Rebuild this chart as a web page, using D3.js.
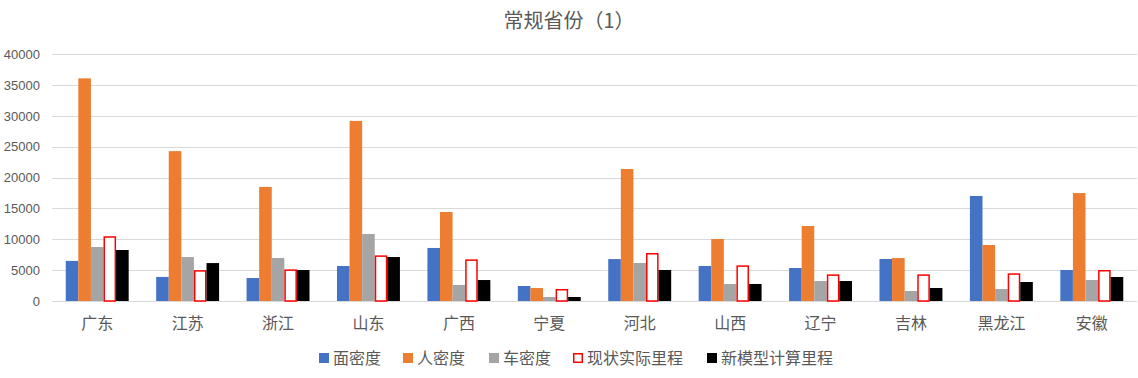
<!DOCTYPE html>
<html><head><meta charset="utf-8">
<script src="https://cdn.jsdelivr.net/npm/d3@7"></script>
<style>body{margin:0;background:#fff}svg{display:block;font-family:"Noto Sans CJK SC","DejaVu Sans",sans-serif}</style>
</head><body><svg id="c" width="1138" height="378"></svg>
<script>
const categories = ["广东","江苏","浙江","山东","广西","宁夏","河北","山西","辽宁","吉林","黑龙江","安徽"];
const seriesNames = ["面密度","人密度","车密度","现状实际里程","新模型计算里程"];
const areaDensity   = [6500,3900,3730,5680,8600,2430,6800,5680,5350,6810,17030,5030];
const popDensity    = [36100,24300,18500,29200,14430,2100,21400,10050,12160,6970,9080,17500];
const carDensity    = [8750,7130,6970,10860,2600,650,6160,2760,3240,1620,1950,3400];
const actualMileage = [10500,5000,5130,7400,6750,1950,7780,5780,4320,4320,4490,5030];
const modelMileage  = [8270,6150,5020,7130,3400,650,5030,2760,3240,2110,3080,3890];
const yTicks = [0,5000,10000,15000,20000,25000,30000,35000,40000];
const title = "常规省份（1）";

const seriesData = [areaDensity, popDensity, carDensity, actualMileage, modelMileage];
const fills = ["#4472C4","#ED7D31","#A5A5A5","#FFFFFF","#000000"];
const strokes = [null,null,null,"#FF0000",null];

const svg = d3.select("#c");
const mLeft = 52, mRight = 1137, mTop = 54.3, mBottom = 301;
const y = d3.scaleLinear().domain([0,40000]).range([mBottom, mTop]);
const x0 = d3.scaleBand().domain(categories).range([mLeft, mRight]).padding(0);
const bw = x0.bandwidth();
const x1 = d3.scaleBand().domain(seriesNames).range([bw*0.152, bw*0.848]).padding(0);

// gridlines
svg.append("g").selectAll("line").data(yTicks).join("line")
  .attr("x1", mLeft).attr("x2", mRight)
  .attr("y1", d=>Math.round(y(d))+0.5).attr("y2", d=>Math.round(y(d))+0.5)
  .attr("stroke","#D9D9D9").attr("stroke-width",1);

// y labels
const yAxis = d3.axisLeft(y).tickValues(yTicks).tickSize(0).tickPadding(0).tickFormat(d3.format("d"));
const ya = svg.append("g").attr("transform","translate(40,0)").call(yAxis);
ya.select(".domain").remove();
ya.selectAll("text").attr("fill","#595959").style("font-size","13px").style("font-family","'Liberation Sans',Arial,sans-serif");

// bars
const groups = svg.append("g").selectAll("g").data(categories).join("g")
  .attr("transform", d=>`translate(${x0(d)},0)`);
groups.each(function(cat, ci){
  const g = d3.select(this);
  seriesNames.forEach((s, si) => {
    const v = seriesData[si][ci];
    const xx = x1(s), w = x1.bandwidth();
    if (strokes[si]) {
      g.append("rect").attr("x", xx+0.75).attr("y", y(v)+0.75)
        .attr("width", w-1.5).attr("height", Math.max(0, y(0)-y(v)-0.75))
        .attr("fill", fills[si]).attr("stroke", strokes[si]).attr("stroke-width",1.5);
    } else {
      g.append("rect").attr("x", xx).attr("y", y(v))
        .attr("width", w).attr("height", y(0)-y(v))
        .attr("fill", fills[si]);
    }
  });
});

// x labels
const xAxis = d3.axisBottom(x0).tickSize(0).tickPadding(0);
const xa = svg.append("g").attr("transform",`translate(0,323)`).call(xAxis);
xa.select(".domain").remove();
xa.selectAll("text").attr("fill","#595959").style("font-size","16px").attr("y",0).attr("dy","0.36em")
  .style("font-family","'Noto Sans CJK SC',sans-serif");

// title
svg.append("text").attr("x", 569).attr("y", 28).attr("text-anchor","middle")
  .attr("fill","#595959").style("font-size","20px").text(title);

// legend
const legTextX = [333, 417, 503, 587, 721];
const leg = svg.append("g").selectAll("g").data(seriesNames).join("g")
  .attr("transform",(d,i)=>`translate(${legTextX[i]},358)`);
leg.append("rect").attr("x",(d,i)=>strokes[i]?-13.25:-14).attr("y",(d,i)=>strokes[i]?-4.25:-5)
  .attr("width",(d,i)=>strokes[i]?8.5:10).attr("height",(d,i)=>strokes[i]?8.5:10)
  .attr("fill",(d,i)=>fills[i]).attr("stroke",(d,i)=>strokes[i]||"none").attr("stroke-width",1.5);
leg.append("text").attr("x",0).attr("y",0).attr("dy","0.36em")
  .attr("fill","#595959").style("font-size","16px").text(d=>d);
</script></body></html>
